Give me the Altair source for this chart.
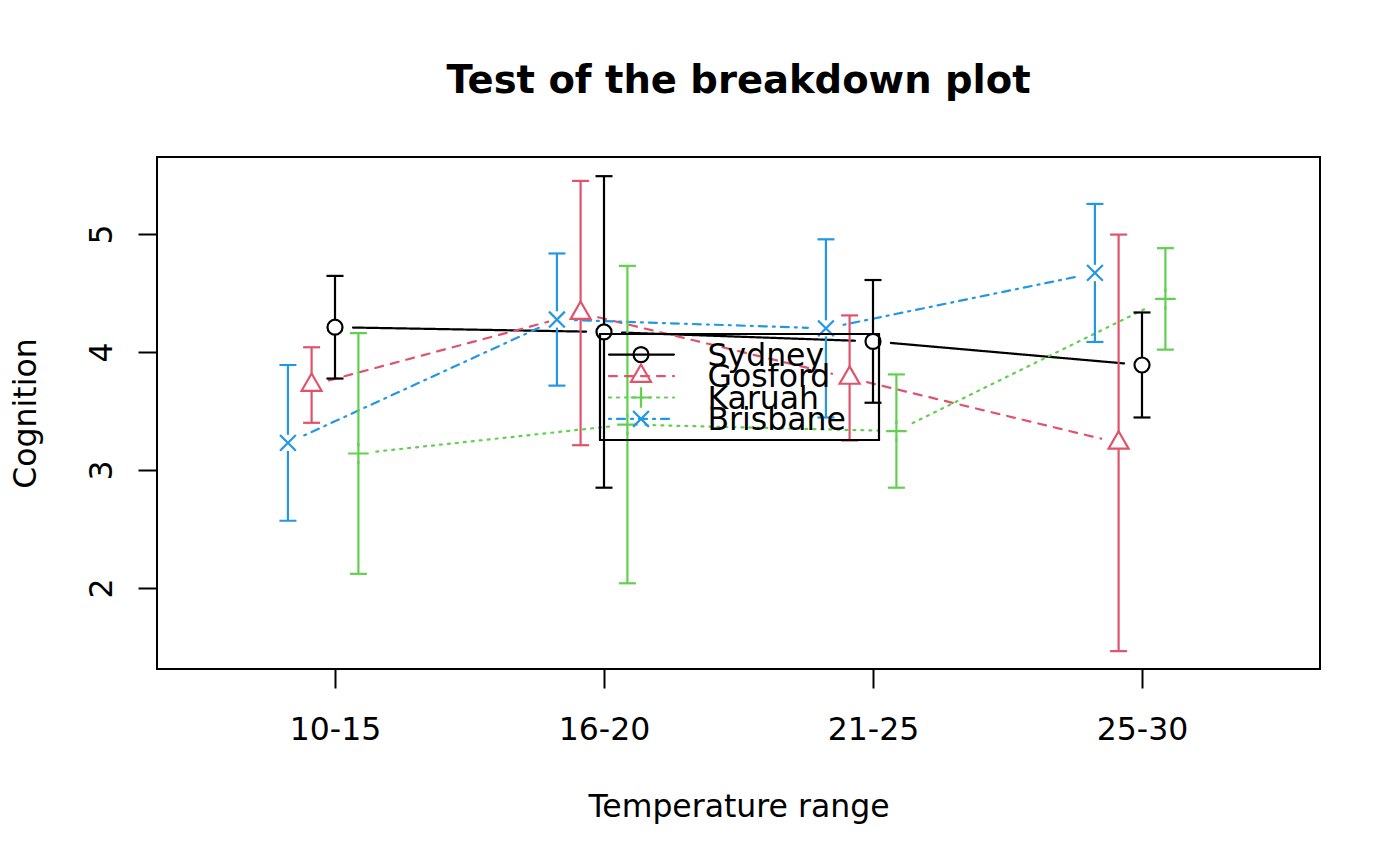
import json
import numpy as np
import pandas as pd
import altair as alt

# ---------------- data ----------------
temp_ranges = ["10-15", "16-20", "21-25", "25-30"]
series = ["Sydney", "Gosford", "Karuah", "Brisbane"]

sydney_mean = [4.21, 4.17, 4.09, 3.89]
sydney_disp = [0.435, 1.32, 0.52, 0.445]
gosford_mean = [3.72, 4.33, 3.78, 3.23]
gosford_disp = [0.32, 1.12, 0.53, 1.765]
karuah_mean = [3.14, 3.385, 3.33, 4.45]
karuah_disp = [1.02, 1.345, 0.48, 0.43]
brisbane_mean = [3.23, 4.275, 4.20, 4.67]
brisbane_disp = [0.66, 0.56, 0.755, 0.585]

means = {"Sydney": sydney_mean, "Gosford": gosford_mean,
         "Karuah": karuah_mean, "Brisbane": brisbane_mean}
disps = {"Sydney": sydney_disp, "Gosford": gosford_disp,
         "Karuah": karuah_disp, "Brisbane": brisbane_disp}

# ---------------- styles / layout ----------------
colors = {"Sydney": "#000000", "Gosford": "#DF536B",
          "Karuah": "#61D04F", "Brisbane": "#2297E6"}
dashes = {"Sydney": [1, 0], "Gosford": [8, 8],
          "Karuah": [2, 6], "Brisbane": [2, 6, 8, 6]}
dodge = {"Brisbane": -0.175, "Gosford": -0.087, "Sydney": 0.0, "Karuah": 0.087}
TRI = "M0,-1.1547L1,0.5774L-1,0.5774Z"
PLUS = "M-1,0L1,0M0,-1L0,1"
XSYM = "M-1,-1L1,1M-1,1L1,-1"
shapes = {"Sydney": ("circle", 225), "Gosford": (TRI, 400),
          "Karuah": (PLUS, 420), "Brisbane": (XSYM, 250)}
halos = {"Sydney": ("circle", 225), "Gosford": (TRI, 400),
         "Karuah": ("circle", 220), "Brisbane": ("circle", 270)}

FONT = "DejaVu Sans"
FS = 31.5
W, H = 1163, 512
PAD_L, PAD_T = 157, 157
XDOM = [0.3383, 4.6617]
YDOM = [1.3136, 5.6525]
PX_X = W / (XDOM[1] - XDOM[0])
PX_Y = H / (YDOM[1] - YDOM[0])
GAP = 18.0
LW = 2.2

xs = alt.Scale(domain=XDOM, nice=False, zero=False)
ys = alt.Scale(domain=YDOM, nice=False, zero=False)

x_axis = alt.Axis(values=[1, 2, 3, 4],
                  labelExpr=json.dumps(temp_ranges) + "[datum.value - 1]",
                  title="Temperature range", grid=False, domain=False,
                  tickSize=19, tickWidth=2, tickColor="black",
                  labelFont=FONT, labelFontSize=FS, labelColor="black",
                  labelBaseline="alphabetic", labelPadding=51,
                  titleFont=FONT, titleFontSize=FS, titleFontWeight="normal",
                  titleColor="black", titleBaseline="alphabetic", titleY=147)
y_axis = alt.Axis(values=[2, 3, 4, 5], title="Cognition", grid=False, domain=False,
                  tickSize=19, tickWidth=2, tickColor="black",
                  labelFont=FONT, labelFontSize=FS, labelColor="black",
                  labelAngle=-90, labelAlign="center", labelBaseline="alphabetic",
                  labelPadding=27,
                  titleFont=FONT, titleFontSize=FS, titleFontWeight="normal",
                  titleColor="black", titleAngle=-90, titleAlign="center",
                  titleBaseline="alphabetic", titleX=-122, titleY=256)


def X(field):
    return alt.X(field, scale=xs, axis=x_axis, title="Temperature range")


def Y(field):
    return alt.Y(field, scale=ys, axis=y_axis, title="Cognition")


seg_layers, bar_layers, cap_layers, halo_layers, pt_layers = [], [], [], [], []
for s in series:
    m = means[s]
    d = disps[s]
    xpos = [i + 1 + dodge[s] for i in range(len(temp_ranges))]
    pts = pd.DataFrame({"x": xpos, "y": m,
                        "lo": [a - b for a, b in zip(m, d)],
                        "hi": [a + b for a, b in zip(m, d)],
                        "range": temp_ranges})
    # connecting segments, stopped short of the points (R type = "b")
    rows = []
    for i in range(len(xpos) - 1):
        dx = xpos[i + 1] - xpos[i]
        dy = m[i + 1] - m[i]
        L = np.hypot(dx * PX_X, dy * PX_Y)
        t = GAP / L
        rows.append({"x": xpos[i] + t * dx, "y": m[i] + t * dy,
                     "x2": xpos[i + 1] - t * dx, "y2": m[i + 1] - t * dy})
    segs = pd.DataFrame(rows)
    seg_layers.append(
        alt.Chart(segs).mark_rule(color=colors[s], strokeWidth=LW,
                                  strokeDash=dashes[s], strokeCap="round")
        .encode(x=X("x:Q"), y=Y("y:Q"), x2="x2:Q", y2="y2:Q"))
    bar_layers.append(
        alt.Chart(pts).mark_rule(color=colors[s], strokeWidth=LW)
        .encode(x=X("x:Q"), y=Y("lo:Q"), y2="hi:Q"))
    caps = pd.concat([pts[["x", "lo"]].rename(columns={"lo": "v"}),
                      pts[["x", "hi"]].rename(columns={"hi": "v"})])
    cap_layers.append(
        alt.Chart(caps).mark_tick(color=colors[s], orient="horizontal",
                                  size=17, thickness=LW, opacity=1)
        .encode(x=X("x:Q"), y=Y("v:Q")))
    hs, hz = halos[s]
    halo_layers.append(
        alt.Chart(pts).mark_point(filled=True, color="white", opacity=1,
                                  shape=hs, size=hz)
        .encode(x=X("x:Q"), y=Y("y:Q")))
    sh, sz = shapes[s]
    pt_layers.append(
        alt.Chart(pts).mark_point(filled=False, color=colors[s], opacity=1,
                                  shape=sh, size=sz, strokeWidth=LW)
        .encode(x=X("x:Q"), y=Y("y:Q")))

layers = seg_layers + bar_layers + cap_layers + halo_layers + pt_layers

# ---------------- legend (drawn inside the plot, as in R) ----------------
box = pd.DataFrame({"k": [0]})
layers.append(
    alt.Chart(box).mark_rect(fillOpacity=0, stroke="black", strokeWidth=LW)
    .encode(x=alt.value(600 - PAD_L), x2=alt.value(879 - PAD_L),
            y=alt.value(334 - PAD_T), y2=alt.value(440 - PAD_T)))
ROW0, STEP = 354.6, 21.45
for i, s in enumerate(series):
    ry = ROW0 + i * STEP - PAD_T
    ldf = pd.DataFrame({"series": [s]})
    layers.append(
        alt.Chart(ldf).mark_rule(color=colors[s], strokeWidth=LW,
                                 strokeDash=dashes[s], strokeCap="round")
        .encode(x=alt.value(609 - PAD_L), x2=alt.value(674 - PAD_L), y=alt.value(ry)))
    sh, sz = shapes[s]
    layers.append(
        alt.Chart(ldf).mark_point(filled=False, color=colors[s], opacity=1,
                                  shape=sh, size=sz, strokeWidth=LW)
        .encode(x=alt.value(641 - PAD_L), y=alt.value(ry)))
    layers.append(
        alt.Chart(ldf).mark_text(align="left", baseline="alphabetic", font=FONT,
                                 fontSize=FS, color="black")
        .encode(x=alt.value(707.5 - PAD_L), y=alt.value(ry + 11.3), text="series:N"))

chart = alt.layer(*layers).properties(
    width=W, height=H,
    title=alt.TitleParams("Test of the breakdown plot", font=FONT, fontSize=38.5,
                          fontWeight="bold", color="black", anchor="middle",
                          baseline="alphabetic", offset=26),
    autosize=alt.AutoSizeParams(type="none"),
    padding={"left": PAD_L, "top": PAD_T, "right": 1400 - PAD_L - W,
             "bottom": 866 - PAD_T - H},
).configure(background="white",
            view=alt.ViewConfig(stroke="black", strokeWidth=2))

chart.save("out.html", embed_options={"renderer": "svg", "actions": False})
